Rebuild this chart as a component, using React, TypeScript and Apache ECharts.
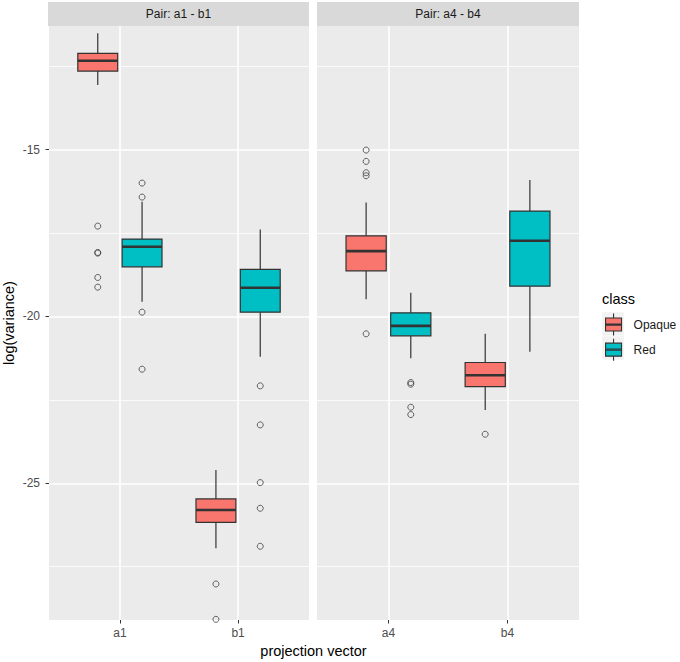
import React, { useEffect, useRef } from "react";
import * as echarts from "echarts";

const panelTitles = ["Pair: a1 - b1", "Pair: a4 - b4"];
const classNames = ["Opaque", "Red"];
const classColors = ["#F8766D", "#00BFC4"];
const pair1Vectors = ["a1", "b1"];
const pair2Vectors = ["a4", "b4"];
const yTicks = [-25, -20, -15];
const yMinorTicks = [-27.5, -22.5, -17.5, -12.5];
const xTicks = [1, 2];

// [lower whisker, Q1, median, Q3, upper whisker] per vector
const pair1Opaque = [
  [-13.06, -12.64, -12.33, -12.11, -11.51],
  [-26.95, -26.17, -25.8, -25.47, -24.6],
];
const pair1Red = [
  [-19.56, -18.51, -17.91, -17.68, -16.56],
  [-21.21, -19.87, -19.14, -18.59, -17.39],
];
const pair2Opaque = [
  [-19.48, -18.63, -18.04, -17.58, -16.58],
  [-22.8, -22.1, -21.76, -21.38, -20.52],
];
const pair2Red = [
  [-21.25, -20.58, -20.28, -19.89, -19.29],
  [-21.06, -19.09, -17.73, -16.84, -15.91],
];

// outliers per vector
const pair1OpaqueOutliers = [
  [-17.29, -18.08, -18.1, -18.83, -19.12],
  [-28.02, -29.08],
];
const pair1RedOutliers = [
  [-16.0, -16.42, -19.87, -21.58],
  [-22.08, -23.25, -24.98, -25.75, -26.89],
];
const pair2OpaqueOutliers = [
  [-15.01, -15.35, -15.69, -15.78, -20.52],
  [-23.53],
];
const pair2RedOutliers = [[-21.98, -22.03, -22.72, -22.94], []];

const FONT = "'Liberation Sans', Arial, Helvetica, sans-serif";
const DODGE = [-0.1875, 0.1875];
const BOX_W = 0.3375;
const Y_MIN = -29.1;
const Y_MAX = -11.29;
const KEY_ICON =
  "path://M0,4.5L16,4.5L16,17.5L0,17.5Z M0,10.4L16,10.4L16,11.6L0,11.6Z M8,0L8,4.5 M8,17.5L8,22";

const App: React.FC = () => {
  const ref = useRef<HTMLDivElement>(null);

  useEffect(() => {
    if (!ref.current) return;
    const chart = echarts.init(ref.current, undefined, { renderer: "svg" });

    const grids = [
      { left: 48, top: 26, width: 261, height: 594 },
      { left: 317, top: 26, width: 262, height: 594 },
    ];
    const vectors = [pair1Vectors, pair2Vectors];
    const stats = [
      [pair1Opaque, pair1Red],
      [pair2Opaque, pair2Red],
    ];
    const outliers = [
      [pair1OpaqueOutliers, pair1RedOutliers],
      [pair2OpaqueOutliers, pair2RedOutliers],
    ];

    const makeRender = (color: string) => (params: any, api: any) => {
      const x = api.value(0);
      const w = api.size([BOX_W, 0])[0];
      const lo = api.coord([x, api.value(1)]);
      const q1 = api.coord([x, api.value(2)]);
      const med = api.coord([x, api.value(3)]);
      const q3 = api.coord([x, api.value(4)]);
      const hi = api.coord([x, api.value(5)]);
      const cx = med[0];
      const lineStyle = { stroke: "#333333", lineWidth: 1.2 };
      return {
        type: "group",
        children: [
          { type: "line", shape: { x1: cx, y1: hi[1], x2: cx, y2: q3[1] }, style: lineStyle },
          { type: "line", shape: { x1: cx, y1: q1[1], x2: cx, y2: lo[1] }, style: lineStyle },
          {
            type: "rect",
            shape: { x: cx - w / 2, y: q3[1], width: w, height: q1[1] - q3[1] },
            style: { fill: color, stroke: "#333333", lineWidth: 1.2 },
          },
          {
            type: "line",
            shape: { x1: cx - w / 2, y1: med[1], x2: cx + w / 2, y2: med[1] },
            style: { stroke: "#333333", lineWidth: 2.6 },
          },
        ],
      };
    };

    const series: any[] = [];
    for (let p = 0; p < 2; p++) {
      for (let c = 0; c < 2; c++) {
        const boxData = stats[p][c].map((s, i) => [i + 1 + DODGE[c], ...s]);
        series.push({
          type: "custom",
          name: classNames[c],
          xAxisIndex: p,
          yAxisIndex: p,
          itemStyle: { color: classColors[c] },
          encode: { x: 0, y: [1, 2, 3, 4, 5] },
          data: boxData,
          renderItem: makeRender(classColors[c]),
          silent: true,
          z: 3,
        });
        const outData: number[][] = [];
        outliers[p][c].forEach((vals, i) => {
          vals.forEach((v) => outData.push([i + 1 + DODGE[c], v]));
        });
        series.push({
          type: "scatter",
          name: classNames[c],
          xAxisIndex: p,
          yAxisIndex: p,
          data: outData,
          symbol: "circle",
          symbolSize: 6,
          itemStyle: { color: "rgba(0,0,0,0)", borderColor: "#3d3d3d", borderWidth: 1 },
          silent: true,
          z: 4,
        });
      }
    }

    const xAxes = [0, 1].map((p) => ({
      type: "value",
      gridIndex: p,
      min: 0.4,
      max: 2.6,
      axisLine: { show: false },
      axisTick: {
        show: true,
        length: 3.5,
        customValues: xTicks,
        lineStyle: { color: "#333333", width: 1 },
      },
      axisLabel: {
        show: true,
        customValues: xTicks,
        margin: 7,
        fontSize: 12,
        fontFamily: FONT,
        color: "#4D4D4D",
        formatter: (v: number) => vectors[p][Math.round(v) - 1] ?? "",
      },
      splitLine: { show: true, lineStyle: { color: "#FFFFFF", width: 1.6 } },
    }));

    const yMajor = [0, 1].map((p) => ({
      type: "value",
      gridIndex: p,
      min: Y_MIN,
      max: Y_MAX,
      name: p === 0 ? "log(variance)" : "",
      nameLocation: "middle",
      nameGap: 33,
      nameTextStyle: { fontSize: 14.5, fontFamily: FONT, color: "#000000" },
      axisLine: { show: false },
      axisTick: {
        show: p === 0,
        length: 3.5,
        customValues: yTicks,
        lineStyle: { color: "#333333", width: 1 },
      },
      axisLabel: {
        show: p === 0,
        customValues: yTicks,
        margin: 9,
        fontSize: 12,
        fontFamily: FONT,
        color: "#4D4D4D",
      },
      splitLine: { show: true, lineStyle: { color: "#FFFFFF", width: 1.6 } },
    }));
    const yMinor = [0, 1].map((p) => ({
      type: "value",
      gridIndex: p,
      min: Y_MIN,
      max: Y_MAX,
      axisLine: { show: false },
      axisTick: { show: false, customValues: yMinorTicks },
      axisLabel: { show: false, customValues: yMinorTicks },
      splitLine: { show: true, lineStyle: { color: "#FFFFFF", width: 0.8 } },
    }));

    const graphics: any[] = [];
    grids.forEach((g, p) => {
      graphics.push({
        type: "rect",
        shape: { x: g.left, y: 2, width: g.width, height: 24 },
        style: { fill: "#D9D9D9" },
        silent: true,
      });
      graphics.push({
        type: "text",
        x: g.left + g.width / 2,
        y: 14,
        style: {
          text: panelTitles[p],
          fill: "#1A1A1A",
          font: `12px ${FONT}`,
          textAlign: "center",
          textVerticalAlign: "middle",
        },
        silent: true,
      });
    });
    graphics.push({
      type: "text",
      x: 313.5,
      y: 651,
      style: {
        text: "projection vector",
        fill: "#000000",
        font: `14.5px ${FONT}`,
        textAlign: "center",
        textVerticalAlign: "middle",
      },
      silent: true,
    });
    graphics.push({
      type: "text",
      x: 602,
      y: 299,
      style: {
        text: "class",
        fill: "#000000",
        font: `14.5px ${FONT}`,
        textAlign: "left",
        textVerticalAlign: "middle",
      },
      silent: true,
    });
    classNames.forEach((_, i) => {
      graphics.push({
        type: "rect",
        shape: { x: 602, y: 312 + i * 24, width: 22, height: 24 },
        style: { fill: "#F2F2F2", stroke: "#FFFFFF", lineWidth: 0.5 },
        silent: true,
        z: 0,
      });
    });

    chart.setOption({
      animation: false,
      backgroundColor: "#FFFFFF",
      grid: grids.map((g) => ({
        ...g,
        show: true,
        backgroundColor: "#EBEBEB",
        borderWidth: 0,
        containLabel: false,
      })),
      xAxis: xAxes,
      yAxis: [...yMajor, ...yMinor],
      legend: {
        orient: "vertical",
        left: 605,
        top: 313,
        itemWidth: 16,
        itemHeight: 22,
        itemGap: 2,
        selectedMode: false,
        padding: 0,
        data: classNames.map((n, i) => ({
          name: n,
          icon: KEY_ICON,
          itemStyle: { color: classColors[i], borderColor: "#333333", borderWidth: 1.1 },
        })),
        textStyle: { fontSize: 12, fontFamily: FONT, color: "#1A1A1A", padding: [0, 0, 0, 7] },
        z: 5,
      },
      graphic: graphics,
      series,
    });

    return () => chart.dispose();
  }, []);

  return (
    <div
      ref={ref}
      style={{ position: "absolute", left: 0, top: 0, width: 680, height: 662 }}
    />
  );
};

export default App;
